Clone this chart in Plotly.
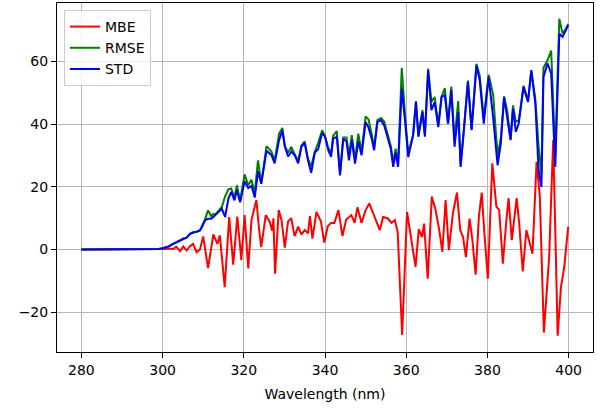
import plotly.graph_objects as go

# ---- MBE (red) : wavelength / value pairs ----
mbe_wl = [280, 298, 300, 301.5, 302.6, 303.4, 304.3, 305.1, 305.9, 306.7, 307.5, 308.4, 309.2,
          310.0, 311.2, 312.5, 313.5, 314.1, 315.3, 316.4, 317.4, 318.4, 319.4, 320.2, 321.1,
          321.9, 323.1, 323.8, 324.3, 325.4, 326.4, 327.0, 327.3, 327.7, 328.6, 329.3, 330.1,
          330.9, 331.7, 332.5, 333.4, 334.2, 335.0, 335.8, 336.3, 336.9, 337.9, 339.0, 339.8,
          340.7, 341.5, 342.3, 343.3, 344.3, 345.2, 346.5, 347.3, 348.0, 349.0, 350.0, 350.9,
          351.9, 352.9, 353.5, 354.3, 355.4, 356.4, 357.2, 357.9, 359.0, 360.2, 361.2, 361.6,
          362.3, 363.1, 363.9, 364.4, 365.3, 366.3, 367.2, 368.1, 368.9, 369.7, 370.5, 371.5,
          372.5, 373.3, 374.0, 374.7, 375.6, 376.3, 377.1, 377.9, 378.6, 379.2, 380.1, 381.2,
          382.2, 382.9, 383.8, 384.6, 385.2, 386.0, 386.6, 387.2, 387.8, 388.7, 389.6, 390.3,
          391.1, 392.1, 392.9, 393.9, 395.2, 396.2, 397.3, 398.1, 398.9, 399.9]
mbe = [0, 0, 0.2, 0.3, 0.2, 0.9, -0.5, 1.0, -0.3, 1.0, 1.8, -0.9, 0,
       4.2, -5.9, 4.8, 1.8, 4.5, -12, 10.4, -4.8, 10.5, -3.4, 11, -6,
       9.4, 15.8, 6, 0.8, 11, 8.8, 6, 10, -7.7, 12.6, 9.4, 0.6,
       9, 10, 4.3, 7.3, 4.8, 6.2, 5.2, 10.7, 3.5, 12, 9, 2.2,
       7.5, 8.5, 8.5, 12.6, 4.3, 9.5, 11, 8.5, 13.5, 8.5, 12.6, 14.7,
       11.5, 8, 6.2, 10.4, 10, 8.5, 9.4, 5.6, -27.3, 12, 3, 0,
       -5.5, 6.5, 4, 8.3, -9.3, 16.9, 12.8, 6.5, -0.7, 15.8, -0.2, 11.6,
       18.2, 6.2, 4, -2.4, 9.9, 3, -8, 10.5, 18.2, 6.2, -9.3, 27.5,
       13.7, 12.6, -4.5, 8.3, 16.4, 3, 9.4, 16.4, 8.7, -7, 6.2, 3,
       -1.3, 28, 17, -26.5, -2.4, 35, -27.5, -12, -5.8, 7.3]

# ---- STD (blue) and RMSE (green) : shared wavelengths ----
std_wl = [280, 298, 299, 300, 301.5, 302.6, 303.5, 304.3, 305.2, 305.9, 306.8, 307.5, 308.5,
          309.2, 309.7, 310.5, 311.2, 312.0, 312.5, 313.0, 313.8, 314.6, 315.4, 316.2, 316.9,
          317.7, 318.3, 319.1, 320.2, 321.1, 321.9, 322.7, 323.5, 324.3, 325.6, 326.8, 327.6,
          328.7, 329.5, 330.1, 330.9, 331.7, 332.5, 333.4, 334.2, 335.0, 335.8, 336.6, 337.5,
          338.3, 339.3, 340.0, 340.8, 341.5, 342.0, 342.9, 343.7, 344.5, 345.3, 345.9, 346.6,
          347.4, 348.2, 349.0, 350.0, 350.7, 351.5, 352.1, 352.9, 353.8, 354.6, 355.4, 356.2,
          356.8, 357.4, 358.0, 358.9, 359.7, 360.5, 361.7, 362.4, 363.0, 364.0, 364.6, 365.4,
          366.2, 367.0, 367.9, 368.7, 369.5, 370.3, 371.1, 371.9, 372.8, 373.4, 374.2, 375.2,
          376.1, 377.3, 378.1, 379.1, 380.3, 381.4, 382.5, 383.3, 384.1, 384.9, 385.7, 386.3,
          387.0, 387.7, 388.9, 390.0, 390.8, 391.8, 392.6, 393.3, 393.8, 394.8, 395.7, 396.7,
          397.7, 398.5, 399.2, 399.9]
std = [0, 0, 0.2, 0.4, 1.0, 1.8, 2.4, 2.9, 3.5, 3.8, 5.0, 5.3, 5.6,
       6.1, 7.2, 9.4, 9.8, 9.8, 10.4, 11, 12, 13, 10.4, 16.3, 18.4,
       15.7, 18.9, 15.1, 21.8, 19.6, 20.3, 16.6, 25, 21, 31.5, 30.2, 27.5,
       35, 38, 33, 29.7, 31.3, 30.2, 27.5, 32.9, 34, 28.5, 24.5, 31,
       32, 37.2, 36, 31.7, 29.6, 35.4, 36, 23.7, 35.4, 34.5, 28.5, 35,
       27.4, 34.5, 30.1, 40.7, 39, 35.4, 31.7, 40.7, 41.3, 39.5, 36, 32.2,
       26.4, 31, 26.4, 51.4, 41.3, 29.5, 36.5, 47.1, 36, 43.9, 36, 57.2,
       44.5, 47.1, 39.1, 48.7, 49.3, 40.2, 50.9, 32.8, 43.9, 26.4, 38.1, 53.5,
       38.1, 58.8, 54, 40.2, 55.1, 42.3, 26.9, 33.8, 48.7, 41.3, 34.9, 45,
       37.6, 40.2, 51.9, 47.1, 57.2, 46.6, 25.3, 20, 55.1, 59.4, 56.2, 26.4,
       68.9, 67.9, 70, 71.6]
rmse = [0, 0, 0.2, 0.4, 1.0, 1.8, 2.5, 2.9, 3.6, 3.8, 5.1, 5.6, 5.7,
        6.1, 7.5, 9.8, 12.5, 10.6, 11.4, 11.2, 12.4, 13.6, 17, 19.2, 19.5,
        16.6, 20.5, 15.6, 24, 20.5, 22.3, 18, 28.5, 21.2, 33, 31.3, 28.4,
        37, 38.8, 33, 31, 32.8, 30.5, 28.3, 33.2, 34.5, 29, 26.5, 31.3,
        34, 38.1, 36.2, 32.5, 30.8, 36.3, 37.8, 24.5, 35.8, 35.8, 30, 36.5,
        28.7, 37, 31.2, 42.5, 41.6, 36.8, 32.6, 41.3, 42, 40.8, 37.3, 33.1,
        27.8, 32.2, 27, 58, 43, 30.8, 36.6, 47.4, 36.4, 44.5, 36.8, 57.8,
        47.2, 48.7, 39.8, 48.7, 51.5, 40.2, 52, 35, 47.4, 27.1, 38.3, 53.9,
        38.5, 59.3, 55.5, 42, 55.8, 49.5, 30, 35.6, 48.9, 44.2, 35.2, 46,
        40.8, 41.1, 52.3, 47.4, 57.3, 48, 33, 24, 58, 60.4, 63.5, 30,
        73.7, 69, 70.2, 72]

x_ticks = [280, 300, 320, 340, 360, 380, 400]
y_ticks = [-20, 0, 20, 40, 60]

fig = go.Figure()
fig.add_trace(go.Scatter(x=mbe_wl, y=mbe, mode="lines", name="MBE",
                         line=dict(color="#ff0000", width=2)))
fig.add_trace(go.Scatter(x=std_wl, y=rmse, mode="lines", name="RMSE",
                         line=dict(color="#008000", width=2)))
fig.add_trace(go.Scatter(x=std_wl, y=std, mode="lines", name="STD",
                         line=dict(color="#0000ff", width=2)))

font = dict(family="DejaVu Sans", size=14, color="#000000")
axis_common = dict(showline=True, linecolor="#000000", linewidth=1, mirror=True,
                   ticks="outside", ticklen=5, tickwidth=1, tickcolor="#000000",
                   showgrid=True, gridcolor="#b8b8b8", gridwidth=1, zeroline=False,
                   tickfont=font)

fig.update_layout(
    width=601, height=410,
    margin=dict(l=57, r=8, t=3, b=58),
    paper_bgcolor="white", plot_bgcolor="white",
    font=font,
    showlegend=True,
    legend=dict(x=0.013, y=0.98, xanchor="left", yanchor="top",
                bgcolor="rgba(255,255,255,0.8)", bordercolor="#cccccc", borderwidth=1,
                font=font, itemwidth=30, tracegroupgap=0),
    xaxis=dict(range=[274, 406], tickvals=x_ticks,
               title=dict(text="Wavelength (nm)", font=font, standoff=12), **axis_common),
    yaxis=dict(range=[-32.7, 78.7], tickvals=y_ticks, **axis_common),
)

fig.write_html("out.html")
